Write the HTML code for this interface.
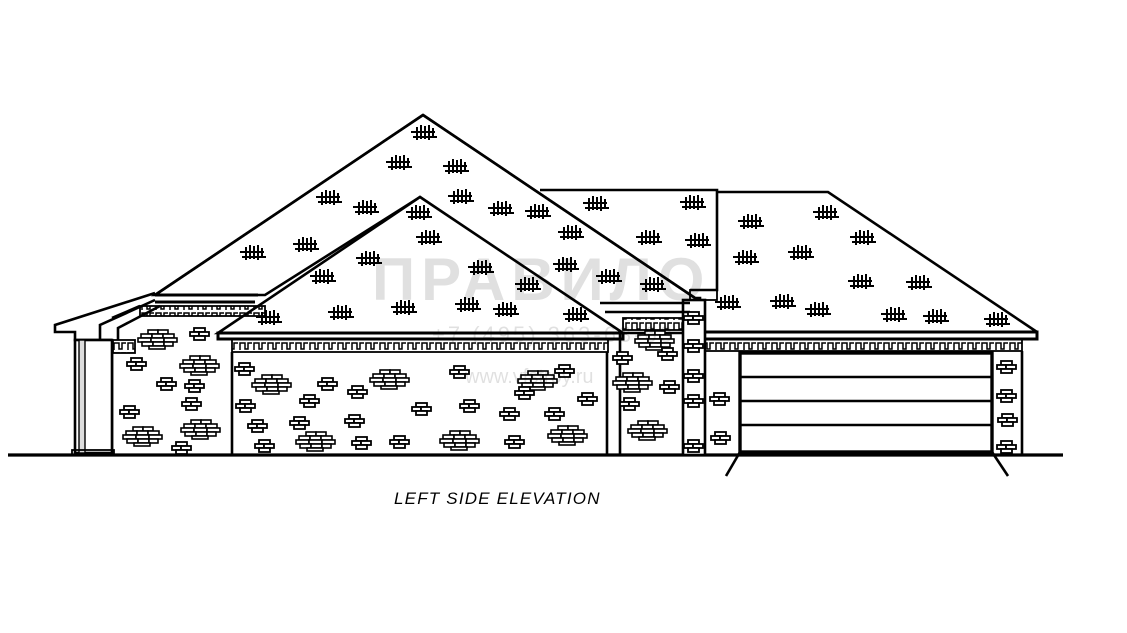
<!DOCTYPE html>
<html><head><style>
html,body{margin:0;padding:0;background:#fff;width:1127px;height:633px;overflow:hidden}
svg{display:block}
</style></head><body>
<svg width="1127" height="633" viewBox="0 0 1127 633" xmlns="http://www.w3.org/2000/svg">
<defs>
<g id="s" stroke="#000" stroke-width="2" fill="none">
<line x1="0" y1="7" x2="24" y2="7"/><line x1="2" y1="12" x2="26" y2="12"/>
<line x1="6" y1="2" x2="6" y2="15"/><line x1="10" y1="0" x2="10" y2="14"/><line x1="14" y1="1" x2="14" y2="14"/><line x1="18" y1="0" x2="18" y2="15"/><line x1="22" y1="3" x2="22" y2="13"/>
</g>
<g id="b" stroke="#000" stroke-width="1.8" fill="#fff">
<rect x="4" y="0" width="11" height="4"/><rect x="0" y="4" width="9" height="4"/><rect x="9" y="4" width="10" height="4"/><rect x="4" y="8" width="11" height="4"/>
</g>
<g id="c" stroke="#000" stroke-width="1.6" fill="#fff">
<rect x="10" y="0" width="10" height="4"/><rect x="20" y="0" width="10" height="4"/>
<rect x="3" y="4" width="11" height="4"/><rect x="14" y="4" width="11" height="4"/><rect x="25" y="4" width="11" height="4"/>
<rect x="0" y="8" width="13" height="4"/><rect x="13" y="8" width="13" height="4"/><rect x="26" y="8" width="13" height="4"/>
<rect x="4" y="12" width="11" height="4"/><rect x="15" y="12" width="11" height="4"/><rect x="26" y="12" width="9" height="4"/>
<rect x="11" y="16" width="16" height="3"/>
</g>
<pattern id="dent" width="14" height="10" patternUnits="userSpaceOnUse">
<path d="M2 10V3h5v6h3V3h4" stroke="#000" stroke-width="1.5" fill="none"/>
</pattern>
</defs>
<g stroke="#000" fill="none" stroke-width="2.6">
<line x1="8" y1="455" x2="1063" y2="455" stroke-width="3.2"/>
<polygon points="423,115 155,295 265,295 420,197 620,333 700,333 700,298 695,298" fill="#fff"/>
<line x1="423" y1="115" x2="695" y2="298"/>
<line x1="423" y1="115" x2="155" y2="295"/>
<path d="M540,190 H717 V290 H690"/>
<path d="M717,192 H828 L1037,332"/>
<rect x="700" y="332" width="337" height="7" stroke-width="3"/>
<rect x="705" y="339" width="317" height="12" fill="url(#dent)" stroke-width="1.8"/>
<polygon points="420,197 218,333 623,333" fill="#fff"/>
<rect x="218" y="333" width="405" height="6" stroke-width="3"/>
<rect x="232" y="339" width="376" height="13" fill="url(#dent)" stroke-width="1.8"/>
<path d="M155,295 L258,295 M155,302 L255,302" stroke-width="3"/>
<rect x="140" y="306" width="125" height="10" fill="url(#dent)" stroke-width="1.8"/>
<line x1="112" y1="340" x2="112" y2="455"/>
<line x1="232" y1="352" x2="232" y2="455"/>
<line x1="607" y1="352" x2="607" y2="455"/>
<rect x="113" y="340" width="22" height="13" fill="url(#dent)" stroke-width="1.8"/>
<path d="M155,293 L55,325 L55,332 L75,332 L75,340 L112,340"/>
<path d="M155,300 L100,325 L100,340"/>
<path d="M160,306 L118,328 L118,340 M140,306 L112,318"/>
<rect x="75" y="340" width="37" height="113" fill="#fff"/>
<rect x="79" y="340" width="6" height="113" fill="#ddd" stroke-width="1.4"/>
<rect x="72" y="450" width="42" height="5" stroke-width="1.8"/>
<rect x="683" y="300" width="22" height="155" fill="#fff"/>
<rect x="690" y="290" width="27" height="10" stroke-width="1.8"/>
<rect x="623" y="318" width="60" height="12" fill="url(#dent)" stroke-width="1.8"/>
<line x1="620" y1="333" x2="620" y2="455"/>
<line x1="600" y1="303" x2="690" y2="303"/>
<line x1="605" y1="312" x2="690" y2="312"/>
<rect x="740" y="353" width="252" height="99" stroke-width="3.4"/>
<line x1="741" y1="377" x2="991" y2="377"/>
<line x1="741" y1="401" x2="991" y2="401"/>
<line x1="741" y1="425" x2="991" y2="425"/>
<line x1="1022" y1="351" x2="1022" y2="455"/>
<line x1="740" y1="452" x2="726" y2="476"/>
<line x1="992" y1="452" x2="1008" y2="476"/>
</g>
<g>
<use href="#s" x="411" y="125"/><use href="#s" x="386" y="155"/><use href="#s" x="443" y="159"/><use href="#s" x="316" y="190"/><use href="#s" x="353" y="200"/><use href="#s" x="448" y="189"/><use href="#s" x="488" y="201"/><use href="#s" x="525" y="204"/><use href="#s" x="583" y="196"/><use href="#s" x="680" y="195"/><use href="#s" x="406" y="205"/><use href="#s" x="416" y="230"/><use href="#s" x="558" y="225"/><use href="#s" x="636" y="230"/><use href="#s" x="685" y="233"/><use href="#s" x="240" y="245"/><use href="#s" x="293" y="237"/><use href="#s" x="356" y="251"/><use href="#s" x="310" y="269"/><use href="#s" x="468" y="260"/><use href="#s" x="515" y="277"/><use href="#s" x="553" y="257"/><use href="#s" x="596" y="269"/><use href="#s" x="640" y="277"/><use href="#s" x="455" y="297"/><use href="#s" x="391" y="300"/><use href="#s" x="328" y="305"/><use href="#s" x="256" y="310"/><use href="#s" x="563" y="307"/><use href="#s" x="493" y="302"/><use href="#s" x="738" y="214"/><use href="#s" x="813" y="205"/><use href="#s" x="850" y="230"/><use href="#s" x="788" y="245"/><use href="#s" x="733" y="250"/><use href="#s" x="848" y="274"/><use href="#s" x="906" y="275"/><use href="#s" x="715" y="295"/><use href="#s" x="770" y="294"/><use href="#s" x="805" y="302"/><use href="#s" x="881" y="307"/><use href="#s" x="923" y="309"/><use href="#s" x="984" y="312"/>
</g>
<g>
<use href="#c" x="138" y="330"/><use href="#b" x="190" y="328"/><use href="#b" x="127" y="358"/><use href="#c" x="180" y="356"/><use href="#b" x="157" y="378"/><use href="#b" x="182" y="398"/><use href="#b" x="120" y="406"/><use href="#b" x="185" y="380"/><use href="#c" x="123" y="427"/><use href="#c" x="181" y="420"/><use href="#b" x="172" y="442"/>
<use href="#b" x="235" y="363"/><use href="#c" x="252" y="375"/><use href="#b" x="318" y="378"/><use href="#c" x="370" y="370"/><use href="#b" x="236" y="400"/><use href="#b" x="300" y="395"/><use href="#b" x="348" y="386"/><use href="#b" x="412" y="403"/><use href="#b" x="248" y="420"/><use href="#b" x="290" y="417"/><use href="#b" x="345" y="415"/><use href="#c" x="296" y="432"/><use href="#b" x="255" y="440"/><use href="#b" x="352" y="437"/><use href="#b" x="390" y="436"/><use href="#c" x="440" y="431"/><use href="#b" x="450" y="366"/><use href="#b" x="500" y="408"/><use href="#c" x="518" y="371"/><use href="#b" x="555" y="365"/><use href="#b" x="460" y="400"/><use href="#b" x="545" y="408"/><use href="#c" x="548" y="426"/><use href="#b" x="505" y="436"/><use href="#b" x="578" y="393"/><use href="#b" x="515" y="387"/>
<use href="#b" x="613" y="352"/><use href="#c" x="613" y="373"/><use href="#b" x="620" y="398"/><use href="#c" x="628" y="421"/><use href="#b" x="660" y="381"/><use href="#c" x="635" y="331"/><use href="#b" x="658" y="348"/>
<use href="#b" x="684" y="312"/><use href="#b" x="684" y="340"/><use href="#b" x="684" y="370"/><use href="#b" x="684" y="395"/><use href="#b" x="684" y="440"/><use href="#b" x="710" y="393"/><use href="#b" x="711" y="432"/>
<use href="#b" x="997" y="361"/><use href="#b" x="997" y="390"/><use href="#b" x="998" y="414"/><use href="#b" x="997" y="441"/>
</g>
<g fill="#000" fill-opacity="0.12" font-family="Liberation Sans, sans-serif">
<text x="372" y="300" font-size="60" font-weight="bold" letter-spacing="6">ПРАВИЛО</text>
<text x="432" y="342" font-size="22" letter-spacing="3">+7 (495) 363-63-63</text>
<text x="465" y="383" font-size="20">www.vfstroy.ru</text>
</g>
<text x="394" y="504" font-family="Liberation Sans, sans-serif" font-size="17" font-style="italic" letter-spacing="1.2" fill="#000">LEFT SIDE ELEVATION</text>
</svg>
</body></html>
